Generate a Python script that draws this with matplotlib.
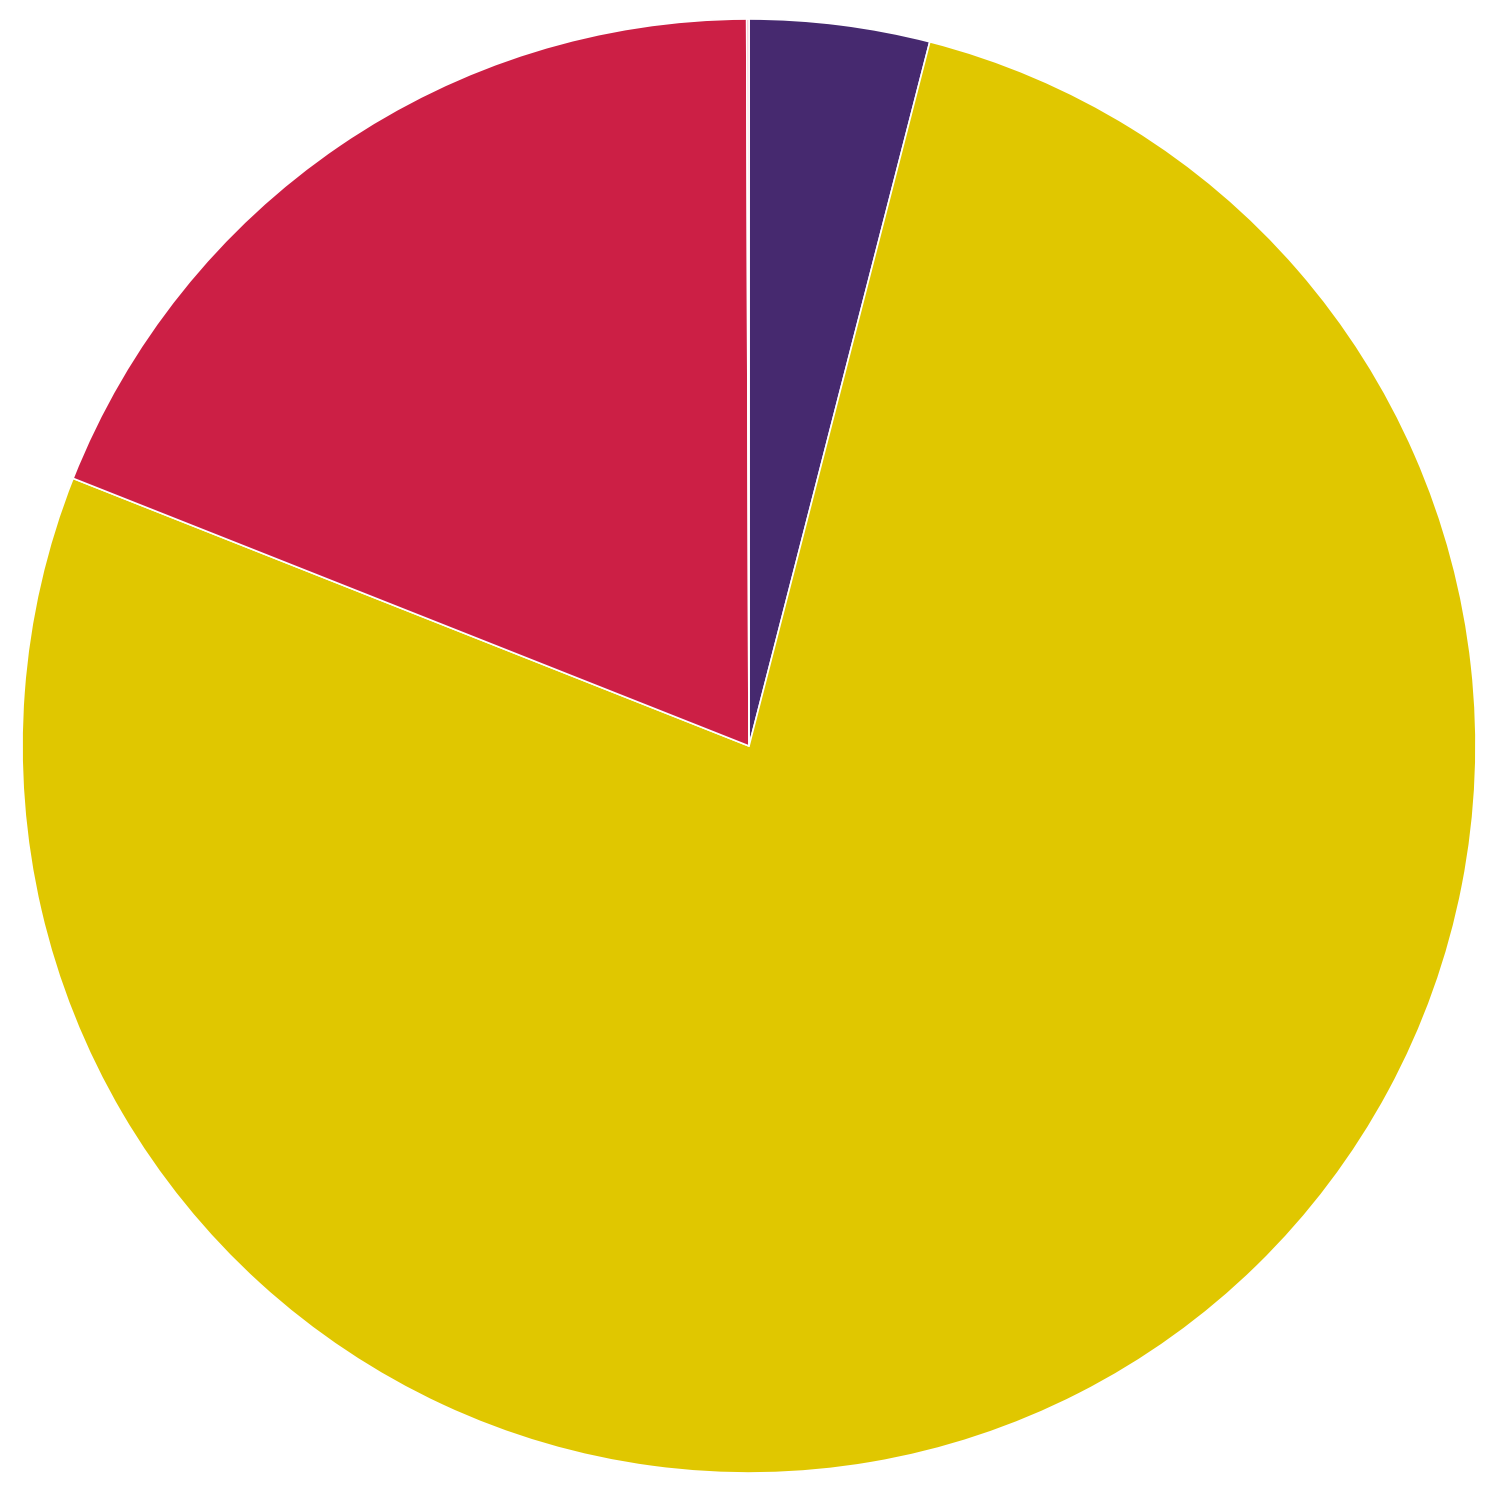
import matplotlib.pyplot as plt

labels = ['A', 'B', 'C', 'D']
values = [4.0, 77.0, 18.95, 0.05]
colors = ['#46296f', '#e0c700', '#cc1f45', '#f0a0b0']

fig = plt.figure(figsize=(15, 15), dpi=100)
ax = fig.add_axes([0, 0, 1, 1])
ax.pie(values, colors=colors, startangle=90, counterclock=False,
       wedgeprops=dict(edgecolor='white', linewidth=1.2))
r = 727
ax.set_xlim(-749 / r, 751 / r)
ax.set_ylim(-754 / r, 746 / r)
ax.axis('off')
fig.savefig('out.png', dpi=100, facecolor='white')
